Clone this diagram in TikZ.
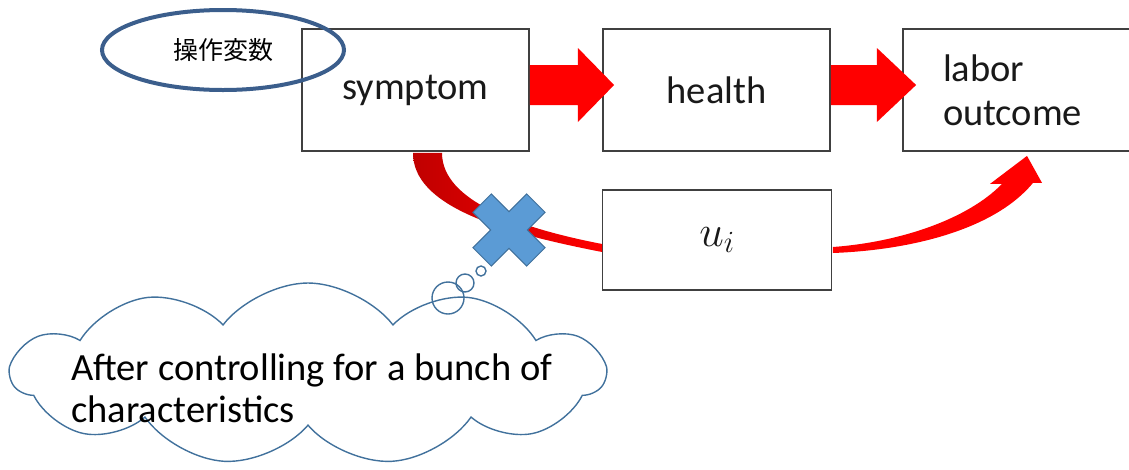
\RequirePackage{fix-cm}
\documentclass[tikz,border=0pt]{standalone}
\usepackage{fontspec}
\setmainfont{Carlito}
\newfontfamily\cjk{Noto Sans CJK JP}
\usetikzlibrary{shapes.geometric,shapes.symbols,calc}

\definecolor{arrowred}{RGB}{255,0,0}
\definecolor{darkred}{RGB}{192,0,0}
\definecolor{ivblue}{RGB}{59,94,140}
\definecolor{cloudblue}{RGB}{65,113,156}
\definecolor{crossfill}{RGB}{91,155,213}
\definecolor{boxline}{RGB}{64,64,64}

\begin{document}
\begin{tikzpicture}[
  x=1pt, y=-1pt,
  box/.style={draw=boxline, line width=1.8pt, minimum width=227pt,
    minimum height=122pt, inner sep=0pt, text=black!90,
    font=\fontsize{38.5}{44}\selectfont},
  bubble/.style={draw=cloudblue, line width=1.4pt},
  crossmark/.style={fill=crossfill, draw=cloudblue, line width=1pt},
]
\useasboundingbox (0,0) rectangle (1129,469);

% boxes
\node [box] (symptom) at (415.5,90) {symptom};
\node [box] (health) at (716.5,90) {health};
\node [box, minimum width=232pt, text width=152pt, inner xsep=40pt,
  align=left] (labor) at (1019,90) {labor\\outcome};
\node [box, minimum width=229pt, minimum height=100pt,
  font=\fontsize{44}{50}\selectfont] (ui) at (717,240) {$u_i$};

% block arrows
\fill [arrowred] ($(symptom.east)+(0,-25)$) -- ++(48,0) -- ++(0,-17)
  -- ($(health.west)+(12,-5)$) -- ($(symptom.east)+(48,32)$)
  -- ++(0,-17) -- ($(symptom.east)+(0,15)$) -- cycle;
\fill [arrowred] ($(health.east)+(0,-25)$) -- ++(46,0) -- ++(0,-17)
  -- ($(labor.west)+(14,-5)$) -- ($(health.east)+(46,32)$)
  -- ++(0,-17) -- ($(health.east)+(0,15)$) -- cycle;

% curved arrow through u_i
\shade [left color=darkred, right color=arrowred]
  ($(symptom.south)+(-2.5,1)$) .. controls +(0,53) and +(-103,-20)
  .. ($(ui.west)+(0.5,12)$) -- ($(ui.west)+(0.5,4)$)
  .. controls +(-83,-16) and +(0,48) .. ($(symptom.south)+(26.5,1)$)
  -- cycle;
\fill [arrowred] ($(ui.east)+(0.5,7)$) .. controls +(68,-5) and +(-34,35)
  .. ($(labor.south)+(-17,32)$) -- ($(labor.south)+(-29,32)$)
  -- ($(labor.south)+(8,4)$) -- ($(labor.south)+(23,31)$)
  -- ($(labor.south)+(14,31)$) .. controls +(-38,46) and +(80,-3)
  .. ($(ui.east)+(0.5,13)$) -- cycle;

% cut mark
\coordinate (cut) at (509,230);
\begin{scope}[shift={(cut)}, rotate=45]
\filldraw [crossmark] (-13,-38) -- (13,-38) -- (13,-13) -- (38,-13)
  -- (38,13) -- (13,13) -- (13,38) -- (-13,38) -- (-13,13) -- (-38,13)
  -- (-38,-13) -- (-13,-13) -- cycle;
\end{scope}

% instrument
\node [ellipse, draw=ivblue, line width=4pt, minimum width=242pt,
  minimum height=80pt, inner sep=0pt, font=\cjk\fontsize{25}{30}\selectfont]
  (iv) at (223,50) {操作変数};

% thought cloud
\node [cloud, cloud puffs=11, cloud puff arc=105, aspect=3.2,
  draw=cloudblue, line width=1.4pt, minimum width=593pt,
  minimum height=182pt] (cloud) at (308,374) {};
\draw [bubble] (481,271) circle [radius=5];
\draw [bubble] (465,283) circle [radius=9];
\draw [bubble] (448,298) circle [radius=16];
\node [anchor=west, inner sep=0pt, align=left,
  font=\fontsize{38.5}{42}\selectfont] (note) at (71,388)
  {After controlling for a bunch of\\characteristics};

\end{tikzpicture}
\end{document}
